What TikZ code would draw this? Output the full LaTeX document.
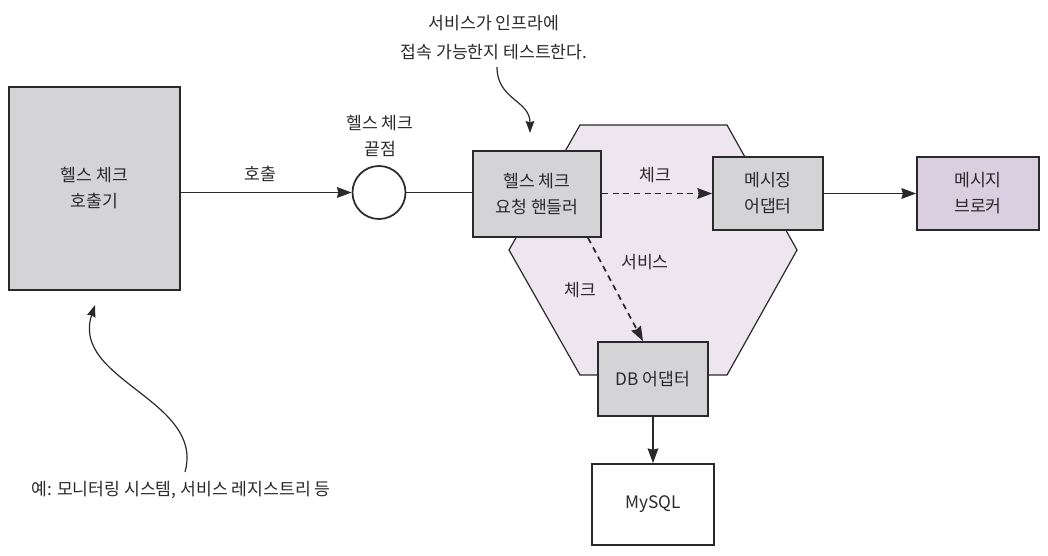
\documentclass[tikz,border=0pt]{standalone}
\usepackage{fontspec}
\setmainfont{Noto Sans CJK KR}
\usetikzlibrary{arrows.meta}
\definecolor{boxgray}{HTML}{D4D4D6}
\definecolor{hexfill}{HTML}{EDE6EE}
\definecolor{brokerfill}{HTML}{DACFE0}
\definecolor{inkgray}{HTML}{2A2A2A}

\begin{document}
\begin{tikzpicture}[x=0.75pt,y=-0.75pt,
  font=\fontsize{12.9}{19.5}\selectfont, text=inkgray,
  box/.style={draw=inkgray, line width=1.3pt, fill=boxgray, align=center, inner sep=0pt},
  flow/.style={draw=inkgray, line width=1.3pt, -{Stealth[length=11pt,width=8pt,inset=1pt]}},
  probe/.style={flow, dash pattern=on 4.5pt off 3.5pt},
  hint/.style={draw=inkgray, line width=0.9pt, -{Stealth[length=9pt,width=6.5pt,inset=1pt]}},
  tag/.style={align=center}]
\useasboundingbox (0,0) rectangle (1048,556);
\draw[draw=inkgray, line width=0.9pt, fill=hexfill] (580,125) -- (727,125) -- (797,250) -- (727,375) -- (580,375) -- (509,250) -- cycle;
\node(caller) [box, minimum width=128.25pt, minimum height=152.25pt] at (94.5,188.5) {헬스 체크\\호출기};
\node(ep) [circle, draw=inkgray, line width=1.3pt, fill=white, minimum size=39.75pt, inner sep=0pt] at (379,192.5) {};
\node(handler) [box, minimum width=96pt, minimum height=64.5pt] at (537,194) {헬스 체크\\요청 핸들러};
\node(msg) [box, minimum width=82.5pt, minimum height=54.75pt] at (768,193.5) {메시징\\어댑터};
\node(broker) [box, fill=brokerfill, minimum width=91.5pt, minimum height=54.75pt] at (978,193.5) {메시지\\브로커};
\node(db) [box, minimum width=82.5pt, minimum height=55.5pt] at (653,379) {DB 어댑터};
\node(mysql) [box, fill=white, minimum width=91.5pt, minimum height=60.75pt] at (653,504.5) {MySQL};
\node(calllbl) [tag] at (260,174) {호출};
\node(eplbl) [tag] at (380,136) {헬스 체크\\끝점};
\node(msgchk) [tag] at (655,175) {체크};
\node(svclbl) [tag] at (645,262) {서비스};
\node(dbchk) [tag] at (580,290) {체크};
\node(topnote) [tag, font=\fontsize{12.9}{21.75}\selectfont] at (494,37.5) {서비스가 인프라에\\접속 가능한지 테스트한다.};
\node(botnote) [tag] at (181,490) {예: 모니터링 시스템, 서비스 레지스트리 등};
\coordinate(topstart) at (497,67);
\coordinate(toptip) at (530,133);
\coordinate(botstart) at (185,472);
\coordinate(bottip) at (95,305);
\draw[flow] (caller.east |- ep.west) -- (ep.west);
\draw[draw=inkgray, line width=1.3pt] (ep.east) -- (handler.west |- ep.east);
\draw[probe] (handler.east |- msg.west) -- (msg.west);
\draw[flow] (msg.east) -- (broker.west);
\draw[probe] ([xshift=38.25pt]handler.south) -- ([xshift=-7.5pt]db.north);
\draw[flow] (db.south) -- (mysql.north);
\draw[hint] (topstart) .. controls (497,100) and (530,100) .. (toptip);
\draw[hint] (botstart) .. controls (205,400) and (70,380) .. (bottip);
\end{tikzpicture}
\end{document}
